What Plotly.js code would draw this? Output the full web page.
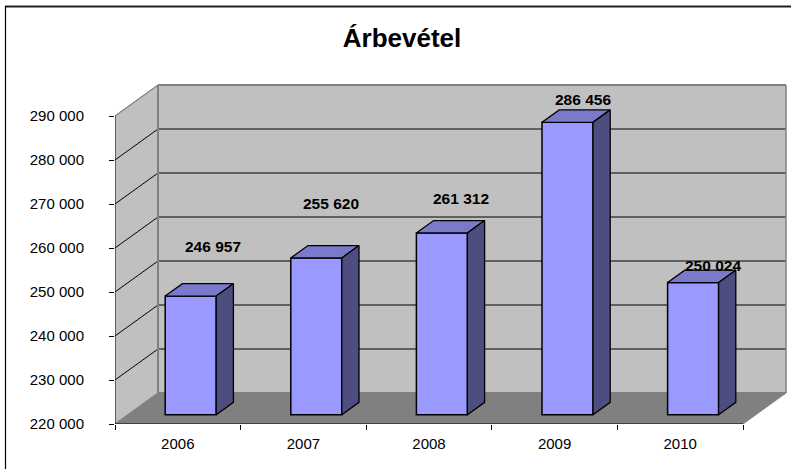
<!DOCTYPE html>
<html><head><meta charset="utf-8">
<script src="https://cdn.plot.ly/plotly-3.0.1.min.js"></script>
<style>html,body{margin:0;padding:0;background:#fff}#chart{width:791px;height:469px}</style>
</head><body><div id="chart"></div>
<script>
const categories = ['2006','2007','2008','2009','2010'];
const revenue = [246957,255620,261312,286456,250024];
const valueLabels = ['246 957','255 620','261 312','286 456','250 024'];
const yTickValues = [220000,230000,240000,250000,260000,270000,280000,290000];
const yTickLabels = ['220 000','230 000','240 000','250 000','260 000','270 000','280 000','290 000'];
const labelShiftX = [1,-6,-2,-6,-1];
const labelShiftY = [50,54,34,23,17];

// plot frame and oblique projection
const L=115,T=80,R=790,B=424, pxX=125.6, pxY=0.0044;
const depthX=43/pxX, depthY=31/pxY;
const yMin=220000, yMax=290000, nCat=categories.length;
const barWidth=51/pxX, barFront=0.3, barBack=0.7;
const P=(x,y,d)=>[x+d*depthX, y+d*depthY];
const grey='#808080', ink='#000000';
const path=pts=>'M'+pts.map(p=>p[0]+','+p[1]).join('L')+'Z';
const poly=(pts,fill,w,c)=>({type:'path',xref:'x',yref:'y',layer:'below',path:path(pts),fillcolor:fill,line:{color:c||fill,width:w||0}});
const seg=(a,b,c,w)=>({type:'line',xref:'x',yref:'y',layer:'below',x0:a[0],y0:a[1],x1:b[0],y1:b[1],line:{color:c,width:w}});
const paperX=px=>(px-L)/(R-L), paperY=py=>(B-py)/(B-T);

const shapes=[
  poly([P(0,yMin,1),P(nCat,yMin,1),P(nCat,yMax,1),P(0,yMax,1)],'#C0C0C0'),
  poly([P(0,yMin,0),P(0,yMin,1),P(0,yMax,1),P(0,yMax,0)],'#C0C0C0'),
  poly([P(0,yMin,0),P(nCat,yMin,0),P(nCat,yMin,1),P(0,yMin,1)],grey)
];
yTickValues.forEach(v=>{
  const edge=(v===yMin||v===yMax);
  shapes.push(seg(P(0,v,1),P(nCat,v,1),edge?grey:ink,edge?2:1.2));
  shapes.push(seg(P(0,v,0),P(0,v,1),edge?grey:ink,edge?1.2:1));
});
shapes.push(seg(P(0,yMin,1),P(0,yMax,1),grey,2));
shapes.push(seg(P(nCat,yMin,1),P(nCat,yMax,1),grey,1.5));
shapes.push(seg(P(nCat,yMin,0),P(nCat,yMin,1),grey,1));
// outer frame: only the top and left edges are visible
shapes.push({type:'line',xref:'paper',yref:'paper',layer:'above',x0:paperX(5),x1:paperX(791),y0:paperY(6.5),y1:paperY(6.5),line:{color:'#222',width:2}});
shapes.push({type:'line',xref:'paper',yref:'paper',layer:'above',x0:paperX(5.5),x1:paperX(5.5),y0:paperY(469),y1:paperY(6),line:{color:'#000',width:1.2}});

const cx=categories.map((c,i)=>i+0.5);
const traces=[];
traces.push({type:'bar',x:cx.map(x=>P(x,0,barFront)[0]),y:revenue.map(v=>v-yMin),base:revenue.map(()=>P(0,yMin,barFront)[1]),
  width:barWidth,marker:{color:'#9999FF',line:{color:ink,width:1.5}},hoverinfo:'skip',showlegend:false});
revenue.forEach((v,i)=>{
  const x0=cx[i]-barWidth/2,x1=cx[i]+barWidth/2;
  const topFace=[P(x0,v,barFront),P(x1,v,barFront),P(x1,v,barBack),P(x0,v,barBack),P(x0,v,barFront)];
  const side=[P(x1,yMin,barFront),P(x1,yMin,barBack),P(x1,v,barBack),P(x1,v,barFront),P(x1,yMin,barFront)];
  [[topFace,'#7A7ACC'],[side,'#4D4D80']].forEach(([f,col])=>traces.push({type:'scatter',mode:'lines',
    x:f.map(p=>p[0]),y:f.map(p=>p[1]),fill:'toself',fillcolor:col,line:{color:ink,width:1.3},hoverinfo:'skip',showlegend:false}));
});
traces.push({type:'scatter',mode:'lines',x:[0,0],y:[yMin,yMax],line:{color:ink,width:1},cliponaxis:false,hoverinfo:'skip',showlegend:false});
traces.push({type:'scatter',mode:'lines',x:[0,nCat],y:[yMin,yMin],line:{color:ink,width:1},cliponaxis:false,hoverinfo:'skip',showlegend:false});

const annotations=revenue.map((v,i)=>({xref:'x',yref:'y',x:P(cx[i],v,barFront)[0],y:P(0,v,barFront)[1],text:'<b>'+valueLabels[i]+'</b>',showarrow:false,
  xshift:labelShiftX[i]+21,yshift:labelShiftY[i],font:{family:'Liberation Sans, Arial, sans-serif',size:15.5,color:'#000'},xanchor:'center',yanchor:'middle'}));

Plotly.newPlot('chart',traces,{
  width:791,height:469,paper_bgcolor:'#fff',plot_bgcolor:'rgba(0,0,0,0)',showlegend:false,bargap:0,
  margin:{l:L,r:791-R,t:T,b:469-B,pad:0},
  title:{text:'<b>Árbevétel</b>',font:{family:'Liberation Sans, Arial, sans-serif',size:26,color:'#000'},x:402/791,xanchor:'center',y:1-38/469,yanchor:'middle'},
  font:{family:'Liberation Sans, Arial, sans-serif',color:'#000'},
  xaxis:{range:[0,(R-L)/pxX],tickmode:'array',tickvals:cx,ticktext:categories,ticks:'',showgrid:false,zeroline:false,showline:false,
    tickfont:{size:15,color:'#000'},ticklabelstandoff:9,
    minor:{tickmode:'array',tickvals:categories.map((c,i)=>i).concat(nCat),ticks:'outside',ticklen:5,tickwidth:1,tickcolor:'#000',showgrid:false}},
  yaxis:{range:[yMin,yMin+(B-T)/pxY],tickmode:'array',tickvals:yTickValues,ticktext:yTickLabels,ticks:'outside',ticklen:5,tickwidth:1,tickcolor:'#000',
    showgrid:false,zeroline:false,showline:false,tickfont:{size:15,color:'#000'},ticklabelstandoff:22},
  shapes,annotations
},{staticPlot:true,displayModeBar:false});
</script></body></html>
